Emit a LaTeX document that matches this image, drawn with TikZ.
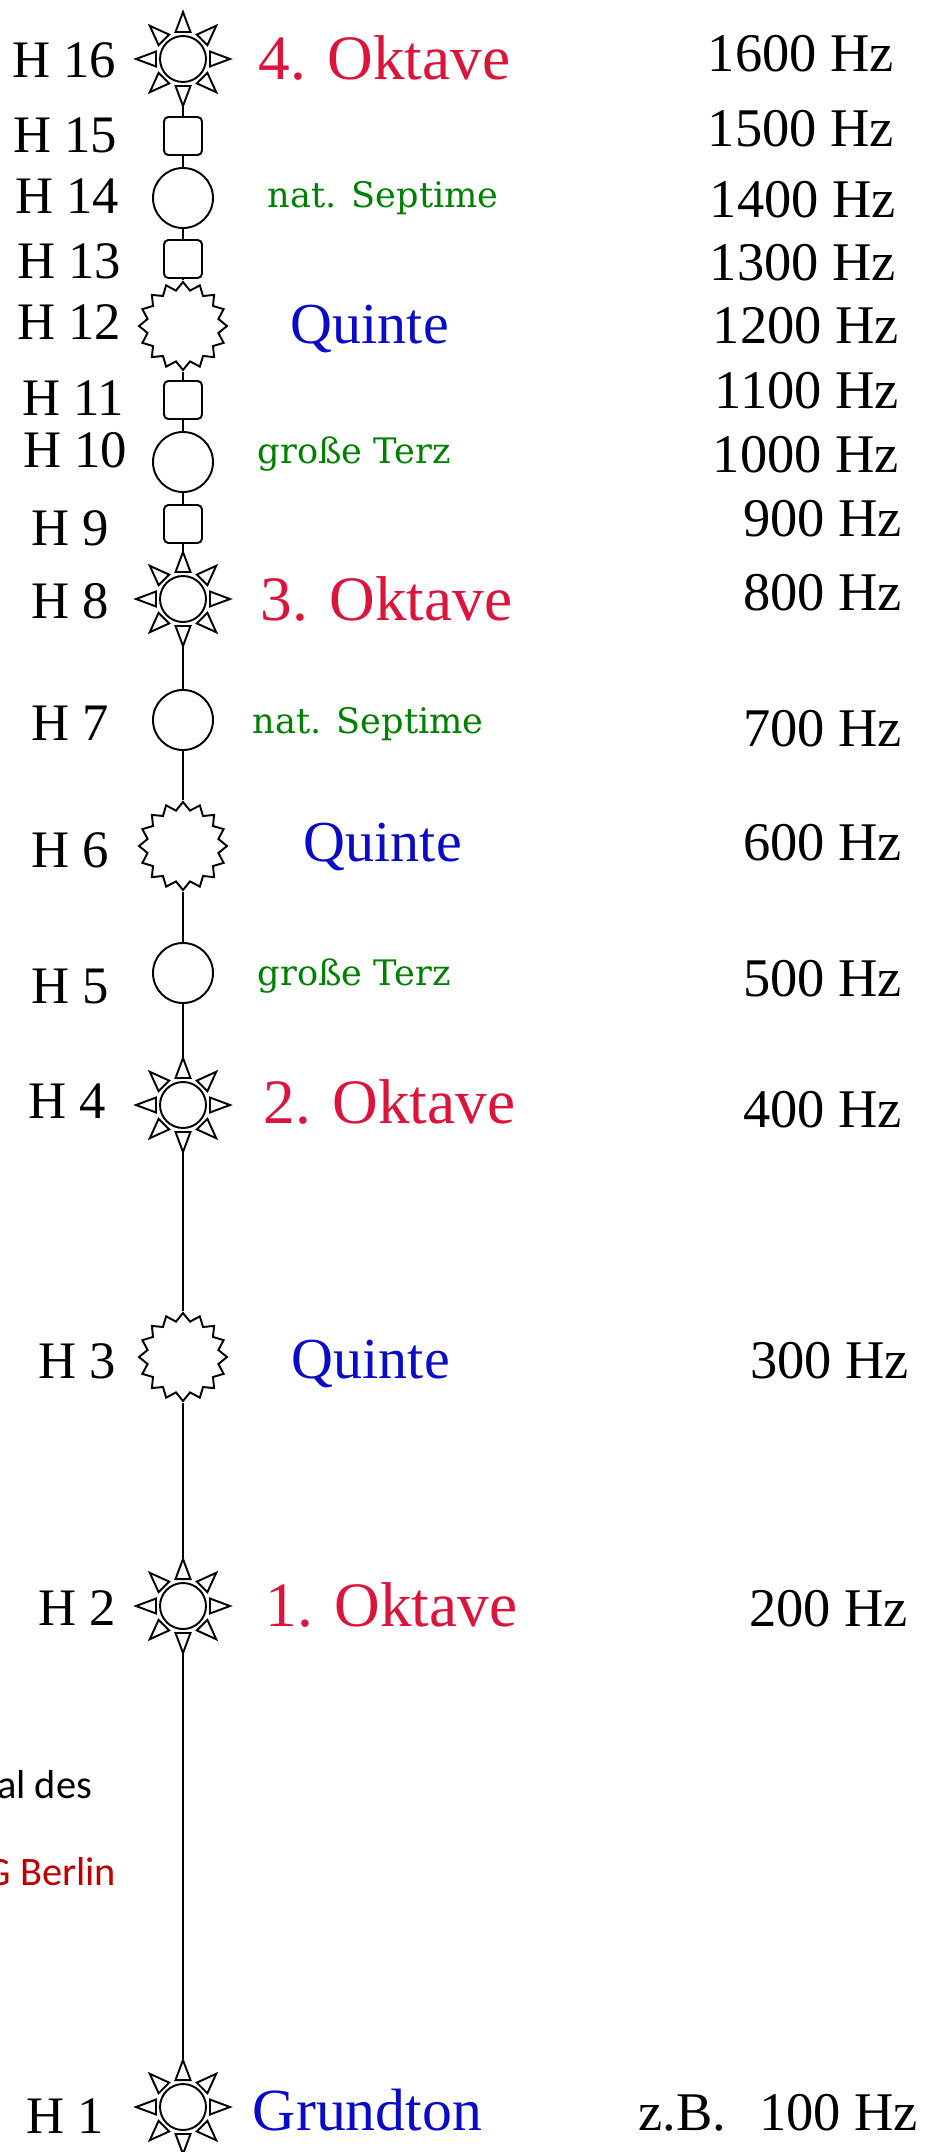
\documentclass[tikz,border=0pt]{standalone}
\usepackage{fontspec}
\setmainfont{Liberation Serif}
\newfontfamily\terzfont{DejaVu Serif}
\newfontfamily\notizfont{Carlito}
\usetikzlibrary{shapes.geometric, positioning}
\definecolor{oktrot}{RGB}{220,20,60}
\definecolor{quintblau}{RGB}{10,10,200}
\definecolor{terzgruen}{RGB}{0,128,0}
\definecolor{berlinrot}{RGB}{192,0,0}

\begin{document}
\begin{tikzpicture}[x=0.2mm, y=-0.2mm, line width=1.1pt,
    ton/.style={circle, minimum size=18.8mm, inner sep=0},
    ring/.style={draw, circle, minimum size=12mm, inner sep=0},
    kasten/.style={draw, rectangle, rounded corners=2.5pt, minimum size=7.6mm, inner sep=0},
    zack/.style={draw, star, star points=16, star point ratio=1.22, minimum size=17.6mm, inner sep=0},
    hname/.style={anchor=base east, inner sep=0, font=\fontsize{30}{36}\selectfont},
    hertz/.style={anchor=base east, inner sep=0, font=\fontsize{31}{37}\selectfont},
    oktave/.style={anchor=base west, inner sep=0, text=oktrot, font=\fontsize{36}{42}\selectfont},
    quinte/.style={anchor=base west, inner sep=0, text=quintblau, font=\fontsize{33}{39}\selectfont},
    terz/.style={anchor=base west, inner sep=0, text=terzgruen, font=\terzfont\fontsize{20}{24}\selectfont},
    notiz/.style={anchor=base east, inner sep=0, font=\notizfont\fontsize{23}{28}\selectfont}]
        \useasboundingbox (0,0) rectangle (942,2152);
        \foreach \n/\st/\y in {16/ton/59, 15/kasten/136, 14/ring/198, 13/kasten/259,
                12/zack/326, 11/kasten/400, 10/ring/462, 9/kasten/524, 8/ton/599,
                7/ring/720, 6/zack/846, 5/ring/973, 4/ton/1105, 3/zack/1357,
                2/ton/1606, 1/ton/2107}
            \node[\st] (h\n) at (183,\y) {};
        \foreach \a/\b in {16/15, 15/14, 14/13, 13/12, 12/11, 11/10, 10/9, 9/8,
                8/7, 7/6, 6/5, 5/4, 4/3, 3/2, 2/1}
            \draw (h\a) -- (h\b);
        \foreach \s in {16,8,4,2,1}{
            \begin{scope}[shift={(h\s.center)}]
                \draw (0,0) circle (4.6mm);
                \foreach \w in {0,45,...,315}
                    \draw (\w+15.5:28) -- (\w:47) -- (\w-15.5:28) -- cycle;
            \end{scope}
        }
        \foreach \n/\x/\y in {16/117/78, 15/118/153, 14/120/213, 13/122/278,
                12/122/339, 11/125/415, 10/128/467, 9/110/545, 8/110/618,
                7/110/740, 6/110/867, 5/110/1003, 4/107/1118, 3/117/1378,
                2/117/1625, 1/105/2133}
            \node[hname] (l\n) at (\x,\y) {H \n};
        \foreach \f/\x/\y in {1600/895/72, 1500/895/147, 1400/897/218, 1300/897/280,
                1200/900/343, 1100/900/408, 1000/900/472, 900/903/536, 800/903/610,
                700/903/746, 600/903/860, 500/903/996, 400/903/1127, 300/910/1378,
                200/909/1626}
            \node[hertz] (f\f) at (\x,\y) {\f\ Hz};
        \node[hertz] (f100) at (919,2130) {z.B.\hspace{0.6em}100 Hz};
        \node[oktave] (o4) at (258,80) {4. Oktave};
        \node[oktave] (o3) at (260,620) {3. Oktave};
        \node[oktave] (o2) at (263,1123) {2. Oktave};
        \node[oktave] (o1) at (265,1626) {1. Oktave};
        \node[quinte] (q12) at (290,343) {Quinte};
        \node[quinte] (q6) at (303,861) {Quinte};
        \node[quinte] (q3) at (291,1378) {Quinte};
        \node[terz] (s14) at (267,208) {nat. Septime};
        \node[terz] (t10) at (257,463) {große Terz};
        \node[terz] (s7) at (252,733) {nat. Septime};
        \node[terz] (t5) at (257,985) {große Terz};
        \node[quinte, font=\fontsize{34}{40}\selectfont] (grund) at (252,2130) {Grundton};
        \node[notiz] (n1) at (93,1798) {al des};
        \node[notiz, text=berlinrot] (n2) at (117,1885) {G Berlin};
\end{tikzpicture}
\end{document}
